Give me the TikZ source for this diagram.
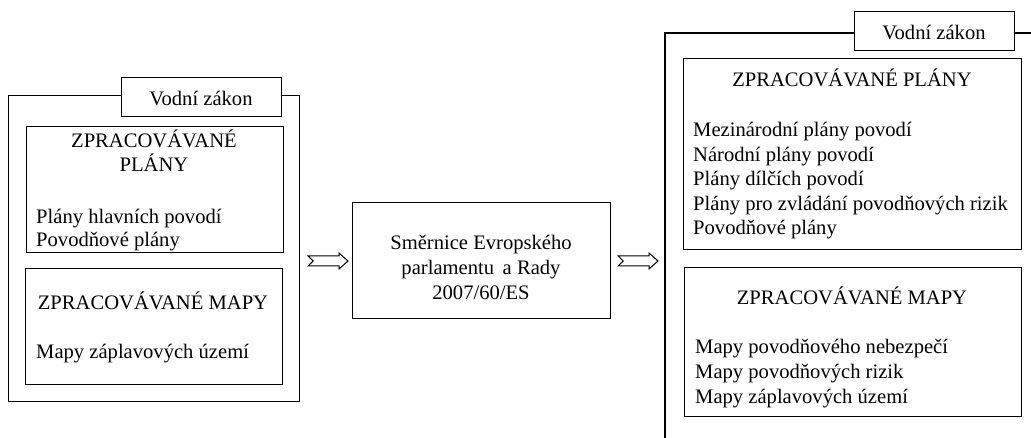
\documentclass[tikz,border=0pt]{standalone}
\usepackage{fontspec}
\setmainfont{Liberation Serif}
\usetikzlibrary{calc}
\tikzset{
  box/.style={draw, line width=1.2pt, fill=white, inner sep=0pt, anchor=north west},
  txt/.style={inner sep=0pt, font=\fontsize{20.6}{25}\selectfont},
  lst/.style={txt, anchor=base west},
  ctr/.style={txt, anchor=base},
  frame/.style={draw, line width=1.2pt},
  arr/.style={draw, line width=1pt, line join=miter},
}
\begin{document}
\begin{tikzpicture}[x=1pt,y=-1pt]
\useasboundingbox (0,0) rectangle (1031,438);
% ---------- left diagram ----------
\node[box, minimum width=291pt, minimum height=306pt] (L) at (8,95) {};
\node[box, minimum width=160pt, minimum height=39pt] (Lt) at (121,77) {};
\node[ctr] (Ltt) at (201,106) {Vodní zákon};
\node[box, minimum width=257pt, minimum height=126pt] (Lp) at (26,126) {};
\node[ctr] (Lp1) at (154,148) {ZPRACOVÁVANÉ};
\node[ctr] (Lp2) at (154,172) {PLÁNY};
\node[lst] (Lp3) at (36,224) {Plány hlavních povodí};
\node[lst] (Lp4) at (36,247) {Povodňové plány};
\node[box, minimum width=257pt, minimum height=116pt] (Lm) at (25,268) {};
\node[ctr] (Lm1) at (153,310) {ZPRACOVÁVANÉ MAPY};
\node[lst] (Lm2) at (36,359) {Mapy záplavových území};
% ---------- middle ----------
\node[box, minimum width=258pt, minimum height=116pt] (M) at (352,202) {};
\node[ctr] (M1) at (481,250) {Směrnice Evropského};
\node[ctr] (M2) at (481,275) {parlamentu\, a Rady};
\node[ctr] (M3) at (481,300) {2007/60/ES};
% ---------- right diagram ----------
\coordinate (Rtr) at (1031,33);
\coordinate (Rtl) at (665,33);
\coordinate (Rbl) at (665,438);
\draw[frame] (Rtr) -- (Rtl) -- (Rbl);
\node[box, minimum width=160pt, minimum height=39pt] (Rt) at (854,11) {};
\node[ctr] (Rtt) at (934,40) {Vodní zákon};
\node[box, minimum width=338pt, minimum height=191pt] (Rp) at (683,58) {};
\node[ctr] (Rp0) at (852,87) {ZPRACOVÁVANÉ PLÁNY};
\node[lst] (Rp1) at (693,137) {Mezinárodní plány povodí};
\node[lst] (Rp2) at (693,161.5) {Národní plány povodí};
\node[lst] (Rp3) at (693,186) {Plány dílčích povodí};
\node[lst] (Rp4) at (693,210.5) {Plány pro zvládání povodňových rizik};
\node[lst] (Rp5) at (693,235) {Povodňové plány};
\node[box, minimum width=337pt, minimum height=149pt] (Rm) at (684,267) {};
\node[ctr] (Rm0) at (852,305) {ZPRACOVÁVANÉ MAPY};
\node[lst] (Rm1) at (695,353) {Mapy povodňového nebezpečí};
\node[lst] (Rm2) at (695,378) {Mapy povodňových rizik};
\node[lst] (Rm3) at (695,403) {Mapy záplavových území};
% ---------- arrows ----------
\coordinate (a1s) at ($(L.east |- 0,261)+(8,0)$);
\coordinate (a1e) at ($(M.west |- 0,261)+(-4,0)$);
\coordinate (a2s) at ($(M.east |- 0,261)+(7,0)$);
\coordinate (a2e) at ($(Rtl |- 0,261)+(-7,0)$);
\foreach \s/\e in {a1s/a1e, a2s/a2e}{
  \draw[arr] ($(\s)+(0,-5)$) -- ($(\s)+(5,0)$) -- ($(\s)+(0,5)$) -- ($(\e)+(-9,5)$)
    -- ($(\e)+(-9,8)$) -- (\e) -- ($(\e)+(-9,-8)$) -- ($(\e)+(-9,-5)$) -- cycle;
}
\end{tikzpicture}
\end{document}
